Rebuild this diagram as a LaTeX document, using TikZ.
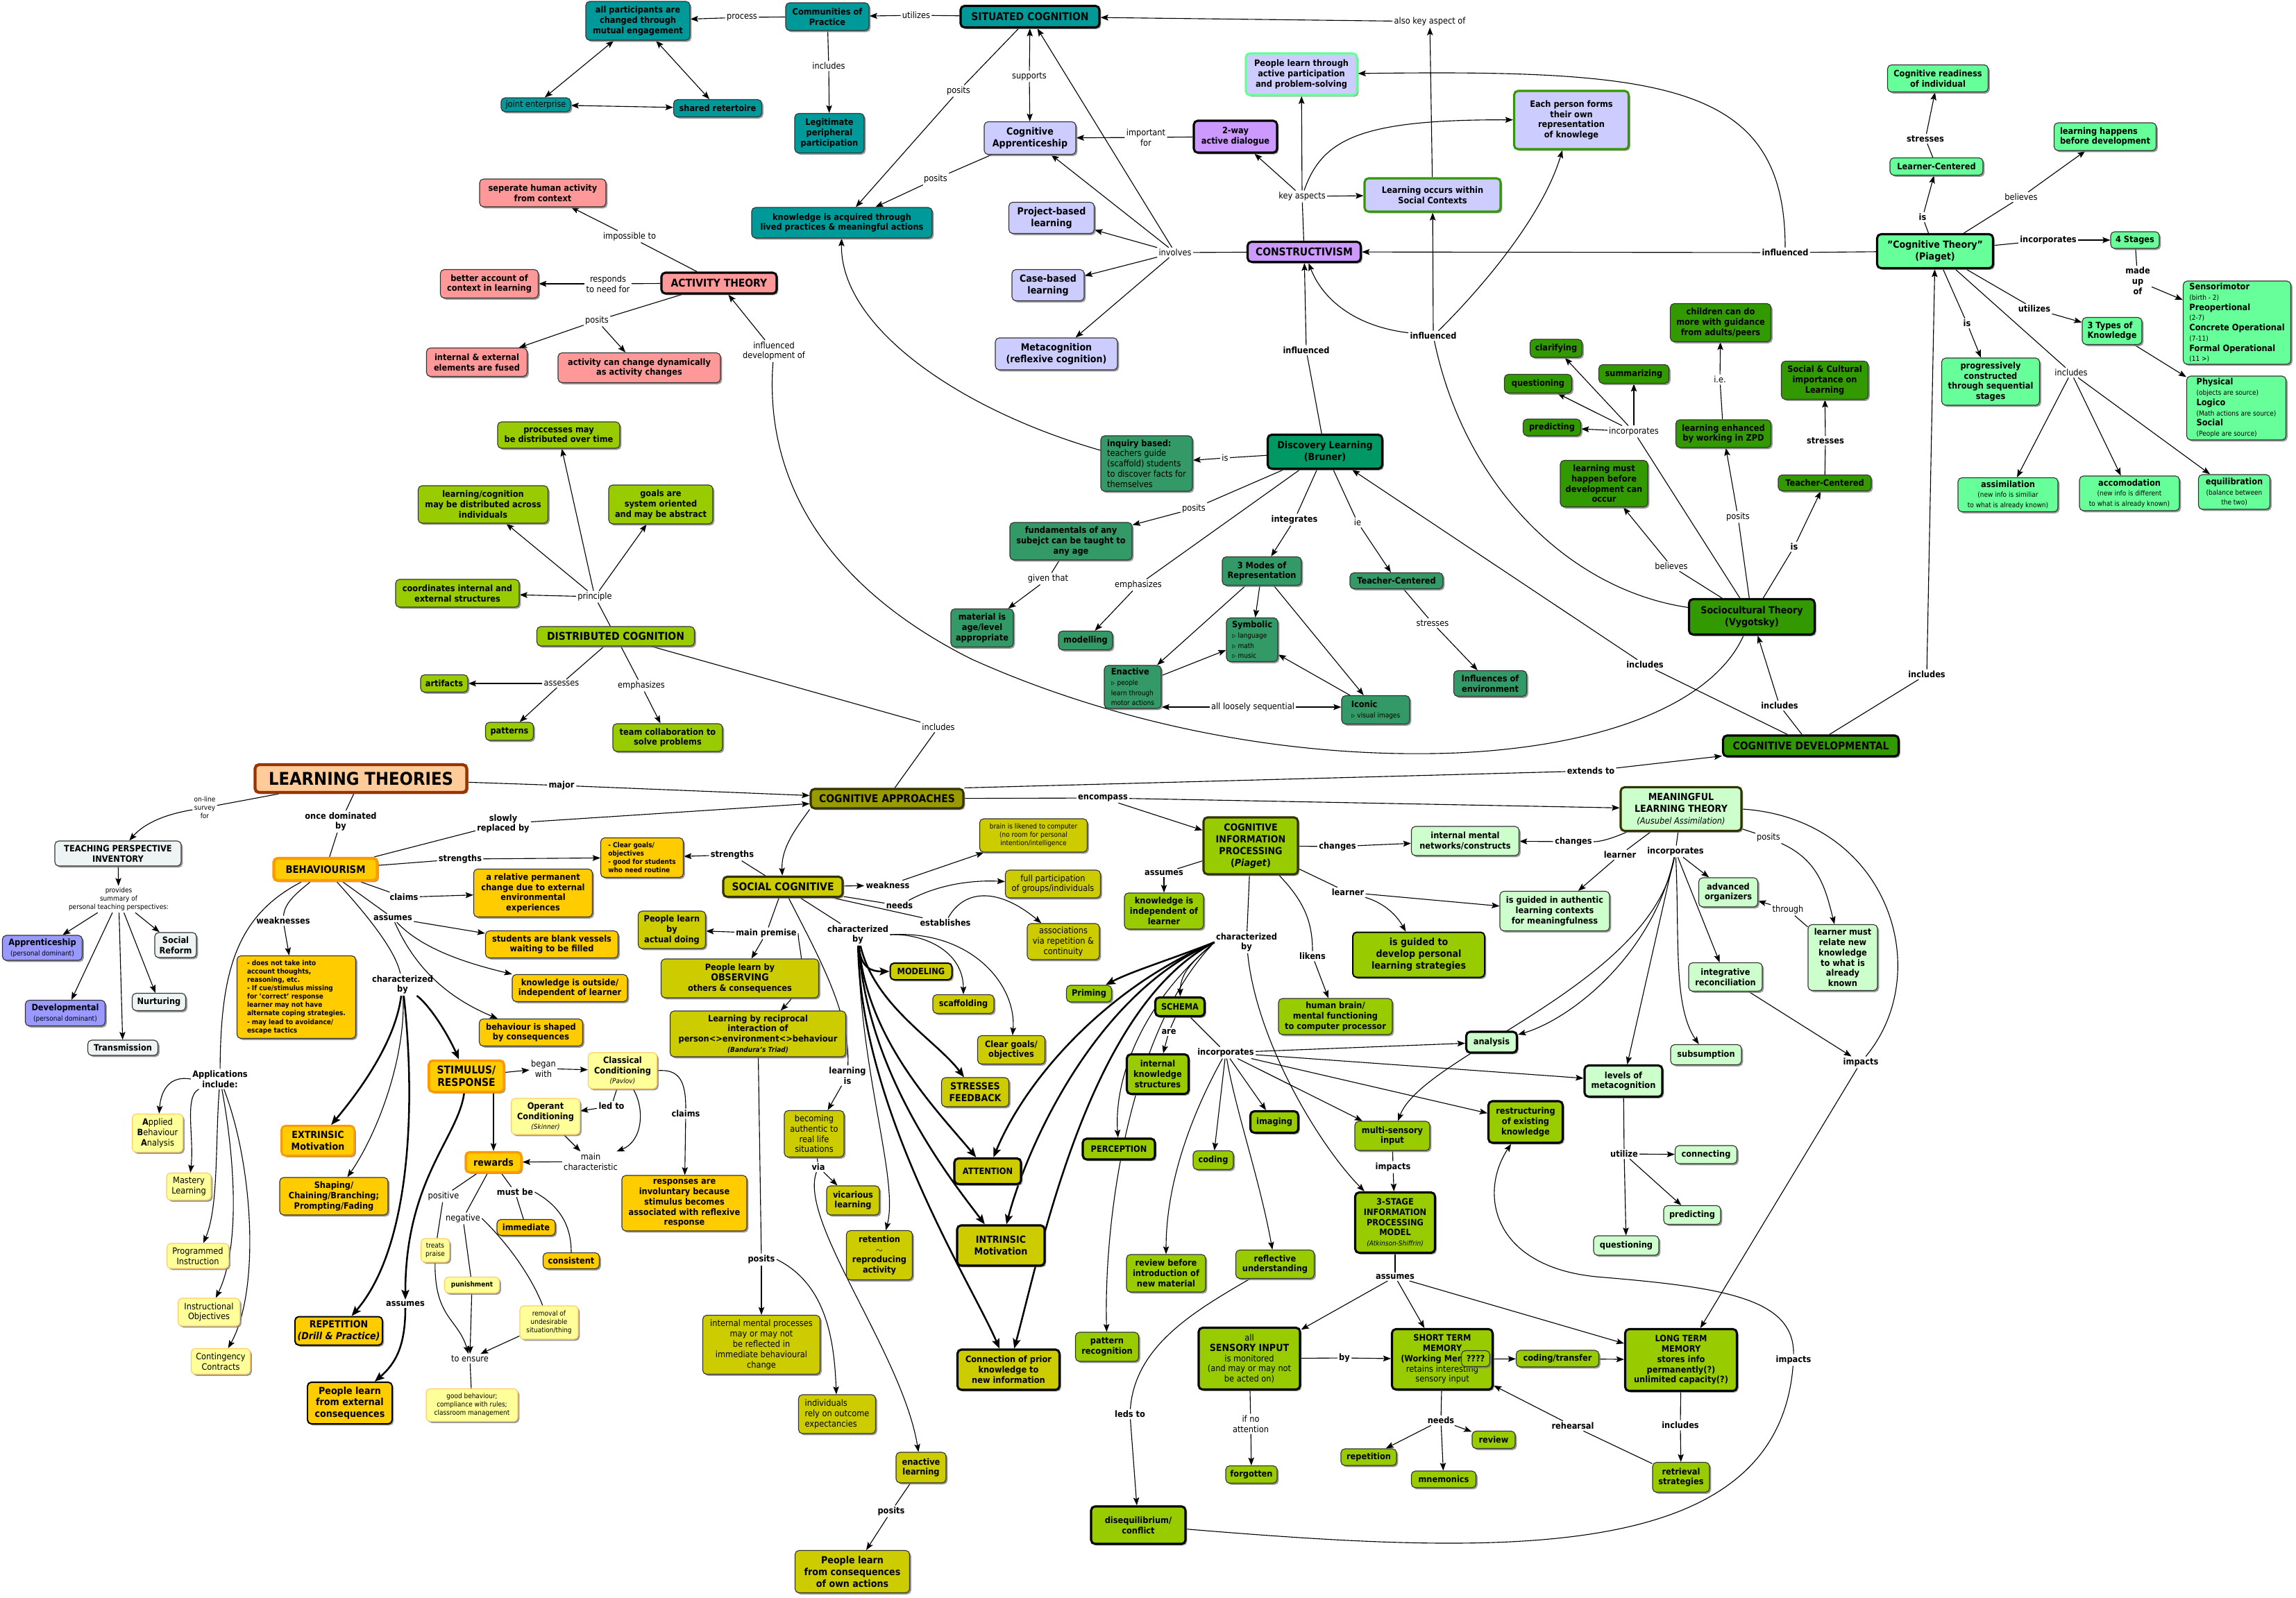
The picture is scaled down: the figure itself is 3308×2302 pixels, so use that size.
\documentclass[tikz,border=0pt]{standalone}
\usepackage{fontspec}
\setmainfont{DejaVu Sans}[FakeStretch=0.9]
\usetikzlibrary{arrows.meta,shadows,backgrounds}
\definecolor{cmteal}{HTML}{009999}
\definecolor{cmlav}{HTML}{CCCCFF}
\definecolor{cmpurp}{HTML}{CC99FF}
\definecolor{cmsalm}{HTML}{FF9999}
\definecolor{cmlime}{HTML}{99CC00}
\definecolor{cmbgreen}{HTML}{339966}
\definecolor{cmdisc}{HTML}{009966}
\definecolor{cmdgreen}{HTML}{339900}
\definecolor{cmmint}{HTML}{66FF99}
\definecolor{cmpmint}{HTML}{CCFFCC}
\definecolor{cmolive}{HTML}{999900}
\definecolor{cmsc}{HTML}{CCCC00}
\definecolor{cmorange}{HTML}{FFCC00}
\definecolor{cmorbord}{HTML}{FF9900}
\definecolor{cmapp}{HTML}{FFFF99}
\definecolor{cmappbord}{HTML}{FFCC66}
\definecolor{cmtpi}{HTML}{EEF4F4}
\definecolor{cmblue}{HTML}{9999FF}
\definecolor{cmpeach}{HTML}{FFCC99}
\definecolor{cmbrown}{HTML}{993300}
\definecolor{cmdolive}{HTML}{333300}
\newcommand{\cmsmall}{\fontsize{7.1}{8.6}\selectfont}
\newcommand{\cmnorm}{\fontsize{9}{10.5}\selectfont}
\newcommand{\cmbig}{\fontsize{10}{12}\selectfont}
\newcommand{\cmtitle}{\fontsize{11}{13}\selectfont}
\newcommand{\cmbeh}{\fontsize{10.5}{12.5}\selectfont}
\newcommand{\cmsr}{\fontsize{11}{13}\selectfont}
\newcommand{\cmhuge}{\fontsize{18}{20}\selectfont}
\newcommand{\cmsub}[1]{{\cmsmall\mdseries #1}}

\begin{document}
\begin{tikzpicture}[x=0.025cm, y=-0.025cm,
    cnode/.style={rectangle, rounded corners=4pt, draw=black!80, line width=0.8pt,
      align=center, inner sep=2pt, font=\cmnorm\bfseries,
      drop shadow={shadow xshift=1.6pt, shadow yshift=-1.6pt, fill=black!50, opacity=0.8}},
    sz/.style 2 args={minimum width=#1*0.025cm, minimum height=#2*0.025cm},
    thk/.style={draw=black, line width=2.2pt},
    tealbox/.style={cnode, fill=cmteal},
    lavbox/.style={cnode, fill=cmlav},
    purpbox/.style={cnode, fill=cmpurp},
    salmbox/.style={cnode, fill=cmsalm},
    limebox/.style={cnode, fill=cmlime},
    bgreenbox/.style={cnode, fill=cmbgreen},
    discbox/.style={cnode, fill=cmdisc},
    dgreenbox/.style={cnode, fill=cmdgreen},
    mintbox/.style={cnode, fill=cmmint},
    pmintbox/.style={cnode, fill=cmpmint},
    olivebox/.style={cnode, fill=cmolive},
    scbox/.style={cnode, fill=cmsc},
    cipbox/.style={cnode, fill=cmlime},
    behbox/.style={cnode, fill=cmorange},
    appbox/.style={cnode, fill=cmapp, draw=cmappbord, font=\cmnorm},
    tpibox/.style={cnode, fill=cmtpi},
    bluebox/.style={cnode, fill=cmblue},
    ltbox/.style={cnode, fill=cmpeach, draw=cmbrown, line width=3pt, font=\cmhuge\bfseries},
    lnk/.style={font=\cmnorm, inner sep=1.5pt, align=center},
    lnkb/.style={font=\cmnorm\bfseries, inner sep=1.5pt, align=center},
    arr/.style={-{Stealth[length=8pt, width=6pt, inset=1.5pt]}, line width=0.8pt},
    tarr/.style={-{Stealth[length=10pt, width=8pt, inset=2pt]}, line width=1.8pt},
    ln/.style={line width=0.8pt},
    dbl/.style={{Stealth[length=8pt, width=6pt, inset=1.5pt]}-{Stealth[length=8pt, width=6pt, inset=1.5pt]}, line width=0.8pt}
  ]
  \useasboundingbox (0,0) rectangle (3308,2302);

  % situated cognition
  \node[tealbox, sz={150}{56}] (allpart) at (919,30) {all participants are\\changed through\\mutual engagement};
  \node[tealbox, sz={100}{20}, font=\cmnorm] (joint) at (772,151) {joint enterprise};
  \node[tealbox, sz={127}{25}] (shared) at (1034,156) {shared retertoire};
  \node[tealbox, sz={120}{40}] (cop) at (1192,24) {Communities of\\Practice};
  \node[tealbox, thk, sz={200}{31}, font=\cmtitle\bfseries] (situated) at (1484,24) {SITUATED COGNITION};
  \node[tealbox, sz={100}{57}] (lpp) at (1195,192) {Legitimate\\peripheral\\participation};
  \node[tealbox, sz={260}{44}] (kacq) at (1213,321) {knowledge is acquired through\\lived practices \& meaningful actions};
  \node[lnk] (l-process) at (1069,25) {process};
  \node[lnk] (l-utilizes1) at (1320,22) {utilizes};
  \node[lnk] (l-includes1) at (1194,95) {includes};
  \node[lnk] (l-posits1) at (1381,131) {posits};
  \node[lnk] (l-supports) at (1483,110) {supports};
  \node[lnk] (l-posits2) at (1348,258) {posits};
  \node[lnk] (l-impfor) at (1651,198) {important\\for};

  % constructivism
  \node[lavbox, sz={132}{47}, font=\cmbig\bfseries] (cogapp) at (1484,199) {Cognitive\\Apprenticeship};
  \node[purpbox, thk, sz={120}{46}] (twoway) at (1780,197) {2-way\\active dialogue};
  \node[lavbox, sz={123}{45}, font=\cmbig\bfseries] (projbl) at (1515,314) {Project-based\\learning};
  \node[lavbox, sz={104}{45}, font=\cmbig\bfseries] (casebl) at (1510,411) {Case-based\\learning};
  \node[lavbox, sz={176}{46}, font=\cmbig\bfseries] (metacog) at (1522,510) {Metacognition\\(reflexive cognition)};
  \node[purpbox, thk, sz={163}{29}, font=\cmtitle\bfseries] (constr) at (1879,363) {CONSTRUCTIVISM};
  \node[lavbox, draw=cmmint, line width=2.2pt, sz={160}{60}] (activep) at (1875,107) {People learn through\\active participation\\and problem-solving};
  \node[lavbox, draw=cmdgreen, line width=2.2pt, sz={196}{48}] (socctx) at (2064,281) {Learning occurs within\\Social Contexts};
  \node[lavbox, draw=cmdgreen, line width=2.2pt, sz={165}{84}] (eachp) at (2264,173) {Each person forms\\their own\\representation\\of knowlege};
  \node[lnk] (l-involves) at (1693,364) {involves};
  \node[lnk] (l-keyasp) at (1876,283) {key aspects};
  \node[lnk] (l-alsokey) at (2060,31) {also key aspect of};
  \node[lnkb] (l-infl1) at (1882,505) {influenced};
  \node[lnkb] (l-infl2) at (2065,484) {influenced};
  \node[lnkb] (l-infl3) at (2572,364) {influenced};

  % activity theory
  \node[salmbox, sz={182}{40}] (seperate) at (782,278) {seperate human activity\\from context};
  \node[salmbox, sz={141}{41}] (betteracc) at (705,409) {better account of\\context in learning};
  \node[salmbox, thk, sz={166}{30}, font=\cmtitle\bfseries] (actth) at (1036,408) {ACTIVITY THEORY};
  \node[salmbox, sz={145}{41}] (intext) at (687,522) {internal \& external\\elements are fused};
  \node[salmbox, sz={234}{43}] (actchg) at (921,530) {activity can change dynamically\\as activity changes};
  \node[lnk] (l-imposs) at (907,341) {impossible to};
  \node[lnk] (l-responds) at (876,409) {responds\\to need for};
  \node[lnk] (l-posits3) at (860,462) {posits};
  \node[lnk] (l-infldev) at (1115,506) {influenced\\development of};

  % distributed cognition
  \node[limebox, sz={176}{38}] (procdist) at (805,627) {proccesses may\\be distributed over time};
  \node[limebox, sz={187}{54}] (lcdist) at (696,727) {learning/cognition\\may be distributed across\\individuals};
  \node[limebox, sz={150}{56}] (goals) at (952,727) {goals are\\system oriented\\and may be abstract};
  \node[limebox, sz={178}{40}] (coord) at (659,855) {coordinates internal and\\external structures};
  \node[limebox, sz={227}{28}, font=\cmtitle\bfseries] (distcog) at (887,917) {DISTRIBUTED COGNITION};
  \node[limebox, sz={68}{25}] (artifacts) at (640,985) {artifacts};
  \node[limebox, sz={69}{26}] (patterns) at (734,1054) {patterns};
  \node[limebox, sz={158}{40}] (teamcol) at (962,1063) {team collaboration to\\solve problems};
  \node[lnk] (l-principle) at (857,860) {principle};
  \node[lnk] (l-assesses) at (809,985) {assesses};
  \node[lnk] (l-emph1) at (924,988) {emphasizes};
  \node[lnk] (l-includes2) at (1352,1048) {includes};

  % learning theories and teaching perspectives
  \node[ltbox, sz={305}{40}] (lt) at (520,1122) {LEARNING THEORIES};
  \node[lnkb] (l-major) at (809,1132) {major};
  \node[lnk, font=\cmsmall] (l-online) at (295,1164) {on-line\\survey\\for};
  \node[tpibox, sz={182}{36}] (tpi) at (170,1230) {TEACHING PERSPECTIVE\\INVENTORY};
  \node[lnk, font=\cmsmall] (l-provides) at (171,1296) {provides\\summary of\\personal teaching perspectives:};
  \node[bluebox, sz={115}{36}] (apprent) at (61,1366) {Apprenticeship\\\cmsub{(personal dominant)}};
  \node[tpibox, sz={60}{36}] (socref) at (253,1362) {Social\\Reform};
  \node[bluebox, sz={115}{37}] (develop) at (94,1460) {Developmental\\\cmsub{(personal dominant)}};
  \node[tpibox, sz={77}{25}] (nurtur) at (229,1444) {Nurturing};
  \node[tpibox, sz={101}{22}] (transm) at (177,1510) {Transmission};

  % behaviourism
  \node[behbox, draw=cmorbord, line width=3pt, sz={149}{32}, font=\cmbeh\bfseries] (behav) at (469,1253) {BEHAVIOURISM};
  \node[lnkb] (l-oncedom) at (491,1184) {once dominated\\by};
  \node[lnkb] (l-slowly) at (725,1187) {slowly\\replaced by};
  \node[lnkb] (l-strength1) at (663,1238) {strengths};
  \node[lnkb] (l-strength2) at (1055,1232) {strengths};
  \node[behbox, sz={119}{57}, font=\cmsmall\bfseries, align=left] (clrgoal1) at (925,1236) {- Clear goals/\\objectives\\- good for students\\who need routine};
  \node[behbox, sz={171}{69}] (relperm) at (768,1287) {a relative permanent\\change due to external\\environmental\\experiences};
  \node[lnkb] (l-claims1) at (582,1293) {claims};
  \node[lnkb] (l-assumes1) at (566,1323) {assumes};
  \node[behbox, sz={191}{39}] (blankv) at (795,1361) {students are blank vessels\\waiting to be filled};
  \node[behbox, sz={166}{39}] (knowout) at (821,1424) {knowledge is outside/\\independent of learner};
  \node[behbox, sz={149}{39}] (behshape) at (765,1488) {behaviour is shaped\\by consequences};
  \node[lnkb] (l-weak1) at (408,1327) {weaknesses};
  \node[behbox, sz={171}{119}, font=\cmsmall\bfseries, align=left] (weakbox) at (427,1437) {- does not take into\\account thoughts,\\reasoning, etc.\\- If cue/stimulus missing\\for 'correct' response\\learner may not have\\alternate coping strategies.\\- may lead to avoidance/\\escape tactics};
  \node[lnkb] (l-char1) at (580,1419) {characterized\\by};
  \node[behbox, draw=cmorbord, line width=2.5pt, sz={108}{45}, font=\cmsr\bfseries] (stimres) at (672,1551) {STIMULUS/\\RESPONSE};
  \node[lnk] (l-began) at (783,1540) {began\\with};
  \node[appbox, font=\cmnorm\bfseries, sz={99}{52}] (classical) at (897,1543) {Classical\\Conditioning\\{\cmsmall\mdseries\itshape (Pavlov)}};
  \node[appbox, font=\cmnorm\bfseries, sz={99}{52}] (operant) at (786,1609) {Operant\\Conditioning\\{\cmsmall\mdseries\itshape (Skinner)}};
  \node[lnkb] (l-ledto) at (881,1594) {led to};
  \node[lnkb] (l-claims2) at (988,1605) {claims};
  \node[lnk] (l-mainchar) at (851,1674) {main\\characteristic};
  \node[behbox, draw=cmorbord, line width=2.5pt, sz={80}{29}, font=\cmbig\bfseries] (rewards) at (711,1675) {rewards};
  \node[behbox, sz={180}{80}] (respinv) at (986,1734) {responses are\\involuntary because\\stimulus becomes\\associated with reflexive\\response};
  \node[lnk] (l-positive) at (639,1724) {positive};
  \node[lnk] (l-negative) at (667,1756) {negative};
  \node[lnkb] (l-mustbe) at (742,1718) {must be};
  \node[behbox, sz={84}{23}] (immed) at (758,1769) {immediate};
  \node[behbox, sz={81}{23}] (consist) at (823,1817) {consistent};
  \node[appbox, sz={41}{34}, font=\cmsmall] (treats) at (627,1802) {treats\\praise};
  \node[appbox, sz={79}{23}, font=\cmsmall\bfseries] (punish) at (680,1852) {punishment};
  \node[appbox, sz={84}{48}, font=\cmsmall] (removal) at (791,1906) {removal of\\undesirable\\situation/thing};
  \node[lnk] (l-ensure) at (677,1958) {to ensure};
  \node[appbox, sz={132}{47}, font=\cmsmall] (goodbeh) at (680,2025) {good behaviour;\\compliance with rules;\\classroom management};
  \node[behbox, draw=cmorbord, line width=2pt, sz={105}{43}, font=\cmbig\bfseries] (extrin) at (458,1644) {EXTRINSIC\\Motivation};
  \node[behbox, sz={156}{54}] (shaping) at (481,1724) {Shaping/\\Chaining/Branching;\\Prompting/Fading};
  \node[behbox, draw=black, line width=1.4pt, sz={126}{41}, font=\cmbig\bfseries] (repet) at (488,1918) {REPETITION\\\textit{(Drill \& Practice)}};
  \node[behbox, draw=black, line width=1.4pt, sz={122}{60}, font=\cmbig\bfseries] (extcons) at (504,2022) {People learn\\from external\\consequences};
  \node[lnkb] (l-assumes2) at (584,1879) {assumes};
  \node[lnkb] (l-applic) at (317,1555) {Applications\\include:};
  \node[appbox, sz={73}{55}] (appba) at (227,1633) {\textbf{A}pplied\\\textbf{B}ehaviour\\\textbf{A}nalysis};
  \node[appbox, sz={64}{39}] (mastery) at (272,1710) {Mastery\\Learning};
  \node[appbox, sz={89}{36}] (progr) at (285,1810) {Programmed\\Instruction};
  \node[appbox, sz={89}{40}] (instr) at (301,1891) {Instructional\\Objectives};
  \node[appbox, sz={85}{37}] (conting) at (318,1962) {Contingency\\Contracts};

  % cognitive approaches and social cognitive
  \node[olivebox, thk, draw=cmdolive, sz={220}{28}, font=\cmtitle\bfseries] (cogappr) at (1278,1151) {COGNITIVE APPROACHES};
  \node[lnkb] (l-encomp) at (1589,1150) {encompass};
  \node[lnkb] (l-extends) at (2292,1111) {extends to};
  \node[scbox, thk, draw=cmdolive, sz={172}{29}, font=\cmtitle\bfseries] (soccog) at (1128,1278) {SOCIAL COGNITIVE};
  \node[lnkb] (l-weakness) at (1279,1276) {weakness};
  \node[scbox, sz={155}{48}, font=\cmsmall] (brain) at (1489,1204) {brain is likened to computer\\(no room for personal\\intention/intelligence};
  \node[lnkb] (l-needs1) at (1296,1305) {needs};
  \node[scbox, sz={137}{40}, font=\cmnorm] (fullpart) at (1517,1274) {full participation\\of groups/individuals};
  \node[lnkb] (l-establ) at (1362,1330) {establishes};
  \node[scbox, sz={104}{52}, font=\cmnorm] (assoc) at (1532,1357) {associations\\via repetition \&\\continuity};
  \node[lnkb] (l-char2) at (1236,1347) {characterized\\by};
  \node[lnkb] (l-mainprem) at (1104,1345) {main premise};
  \node[scbox, sz={97}{54}] (actdoing) at (968,1340) {People learn\\by\\actual doing};
  \node[scbox, sz={227}{56}] (observ) at (1066,1410) {People learn by\\{\cmbig OBSERVING}\\others \& consequences};
  \node[scbox, sz={253}{66}] (bandura) at (1092,1490) {Learning by reciprocal\\interaction of\\person<>environment<>behaviour\\{\cmsmall\itshape (Bandura's Triad)}};
  \node[lnkb] (l-learnis) at (1221,1550) {learning\\is};
  \node[scbox, sz={86}{67}, font=\cmnorm] (authentic) at (1173,1634) {becoming\\authentic to\\real life\\situations};
  \node[lnkb] (l-via) at (1179,1682) {via};
  \node[scbox, sz={76}{42}] (vicar) at (1229,1730) {vicarious\\learning};
  \node[scbox, sz={95}{71}] (retent) at (1267,1809) {retention\\$\sim$\\reproducing\\activity};
  \node[scbox, thk, sz={126}{58}, font=\cmbig\bfseries] (intrin) at (1442,1795) {INTRINSIC\\Motivation};
  \node[scbox, thk, sz={147}{58}] (connprior) at (1453,1974) {Connection of prior\\knowledge to\\new information};
  \node[scbox, sz={72}{44}] (enactl) at (1327,2115) {enactive\\learning};
  \node[lnkb] (l-posits4) at (1284,2178) {posits};
  \node[scbox, sz={165}{61}, font=\cmbig\bfseries] (ownact) at (1228,2265) {People learn\\from consequences\\of own actions};
  \node[lnkb] (l-posits5) at (1097,1815) {posits};
  \node[scbox, sz={169}{85}, font=\cmnorm] (intmental) at (1097,1938) {internal mental processes\\may or may not\\be reflected in\\immediate behavioural\\change};
  \node[scbox, sz={111}{56}, font=\cmnorm, align=left] (outcome) at (1206,2038) {individuals\\rely on outcome\\expectancies};
  \node[scbox, draw=black, line width=1.4pt, sz={89}{24}] (modeling) at (1327,1400) {MODELING};
  \node[scbox, sz={88}{27}] (scaff) at (1388,1447) {scaffolding};
  \node[scbox, sz={97}{41}] (clrgoal2) at (1457,1513) {Clear goals/\\objectives};
  \node[scbox, sz={97}{42}, font=\cmbig\bfseries] (stressfb) at (1405,1574) {STRESSES\\FEEDBACK};
  \node[scbox, thk, sz={96}{37}] (attention) at (1423,1688) {ATTENTION};

  % cognitive information processing
  \node[cipbox, thk, draw=cmdolive, sz={136}{82}, font=\cmbig\bfseries] (cip) at (1802,1219) {COGNITIVE\\INFORMATION\\PROCESSING\\(\textit{Piaget})};
  \node[lnkb] (l-changes1) at (1927,1220) {changes};
  \node[pmintbox, sz={155}{42}] (intnet) at (2111,1212) {internal mental\\networks/constructs};
  \node[lnkb] (l-assumes3) at (1677,1258) {assumes};
  \node[cipbox, sz={114}{52}] (kindep) at (1677,1313) {knowledge is\\independent of\\learner};
  \node[lnkb] (l-learner1) at (1942,1286) {learner};
  \node[pmintbox, sz={158}{57}] (authctx) at (2240,1313) {is guided in authentic\\learning contexts\\for meaningfulness};
  \node[cipbox, draw=black, line width=1.4pt, sz={190}{65}, font=\cmbig\bfseries] (persstrat) at (2044,1376) {is guided to\\develop personal\\learning strategies};
  \node[lnkb] (l-char3) at (1796,1358) {characterized\\by};
  \node[lnkb] (l-likens) at (1891,1378) {likens};
  \node[cipbox, sz={164}{52}] (humbrain) at (1924,1465) {human brain/\\mental functioning\\to computer processor};
  \node[cipbox, sz={65}{24}] (priming) at (1569,1432) {Priming};
  \node[cipbox, thk, sz={71}{27}] (schema) at (1700,1451) {SCHEMA};
  \node[lnkb] (l-are) at (1684,1487) {are};
  \node[cipbox, thk, sz={89}{57}] (intks) at (1668,1548) {internal\\knowledge\\structures};
  \node[lnkb] (l-incorp1) at (1766,1517) {incorporates};
  \node[pmintbox, thk, sz={73}{30}] (analysis) at (2149,1502) {analysis};
  \node[cipbox, thk, sz={69}{31}] (imaging) at (1836,1617) {imaging};
  \node[cipbox, sz={58}{27}] (coding) at (1748,1672) {coding};
  \node[cipbox, thk, sz={104}{30}] (percep) at (1612,1656) {PERCEPTION};
  \node[cipbox, sz={108}{42}] (multisens) at (2006,1637) {multi-sensory\\input};
  \node[lnkb] (l-impacts1) at (2007,1682) {impacts};
  \node[cipbox, thk, sz={107}{60}] (restruct) at (2198,1617) {restructuring\\of existing\\knowledge};
  \node[cipbox, thk, sz={115}{87}] (threestage) at (2010,1762) {3-STAGE\\INFORMATION\\PROCESSING\\MODEL\\{\cmsmall\mdseries\itshape (Atkinson-Shiffrin)}};
  \node[lnkb] (l-assumes4) at (2010,1840) {assumes};
  \node[cipbox, thk, sz={146}{89}, font=\cmnorm] (sensory) at (1800,1958) {all\\{\cmbig\bfseries SENSORY INPUT}\\is monitored\\(and may or may not\\be acted on)};
  \node[lnkb] (l-by) at (1937,1957) {by};
  \node[cipbox, thk, sz={145}{87}] (stm) at (2078,1959) {SHORT TERM\\MEMORY\\(Working Memory)\\{\mdseries retains interesting}\\{\mdseries sensory input}};
  \node[cipbox, sz={41}{23}] (qmarks) at (2126,1958) {????};
  \node[cipbox, sz={119}{24}] (codtrans) at (2244,1958) {coding/transfer};
  \node[cipbox, thk, sz={161}{89}] (ltm) at (2422,1960) {LONG TERM\\MEMORY\\stores info\\permanently(?)\\unlimited capacity(?)};
  \node[lnkb] (l-includes3) at (2421,2054) {includes};
  \node[cipbox, sz={82}{43}] (retriev) at (2422,2129) {retrieval\\strategies};
  \node[lnkb] (l-rehears) at (2266,2055) {rehearsal};
  \node[lnk] (l-ifno) at (1802,2052) {if no\\attention};
  \node[cipbox, sz={74}{25}] (forgot) at (1803,2125) {forgotten};
  \node[lnkb] (l-needs2) at (2076,2047) {needs};
  \node[cipbox, sz={80}{24}] (repetn) at (1972,2100) {repetition};
  \node[cipbox, sz={93}{24}] (mnemon) at (2080,2132) {mnemonics};
  \node[cipbox, sz={62}{25}] (review) at (2152,2075) {review};
  \node[cipbox, sz={114}{54}] (revbefore) at (1680,1835) {review before\\introduction of\\new material};
  \node[cipbox, sz={113}{41}] (reflect) at (1837,1822) {reflective\\understanding};
  \node[cipbox, sz={91}{42}] (patrec) at (1595,1941) {pattern\\recognition};
  \node[lnkb] (l-ledsto) at (1628,2038) {leds to};
  \node[cipbox, thk, sz={136}{54}] (diseq) at (1640,2198) {disequilibrium/\\conflict};
  \node[lnkb] (l-impacts2) at (2584,1960) {impacts};

  % meaningful learning
  \node[pmintbox, thk, draw=cmdolive, sz={174}{63}, font=\cmbig\bfseries] (mlt) at (2422,1166) {MEANINGFUL\\LEARNING THEORY\\{\cmnorm\mdseries\itshape (Ausubel Assimilation)}};
  \node[lnkb] (l-changes2) at (2267,1213) {changes};
  \node[lnkb] (l-learner2) at (2334,1232) {learner};
  \node[lnkb] (l-incorp2) at (2414,1227) {incorporates};
  \node[pmintbox, sz={85}{42}] (advorg) at (2490,1286) {advanced\\organizers};
  \node[lnk] (l-through) at (2576,1311) {through};
  \node[lnk] (l-posits6) at (2548,1207) {posits};
  \node[pmintbox, sz={100}{95}] (relknow) at (2655,1380) {learner must\\relate new\\knowledge\\to what is\\already\\known};
  \node[pmintbox, sz={106}{41}] (integr) at (2486,1408) {integrative\\reconciliation};
  \node[pmintbox, sz={102}{29}] (subsum) at (2458,1520) {subsumption};
  \node[pmintbox, thk, sz={112}{45}] (levmeta) at (2339,1558) {levels of\\metacognition};
  \node[lnkb] (l-impacts3) at (2681,1531) {impacts};
  \node[lnkb] (l-utilize) at (2340,1663) {utilize};
  \node[pmintbox, sz={89}{26}] (connect) at (2458,1664) {connecting};
  \node[pmintbox, sz={82}{27}] (predML) at (2438,1751) {predicting};
  \node[pmintbox, sz={94}{28}] (questML) at (2343,1795) {questioning};

  % cognitive developmental
  \node[dgreenbox, thk, sz={253}{30}, font=\cmtitle\bfseries] (cogdev) at (2609,1075) {COGNITIVE DEVELOPMENTAL};
  \node[lnkb] (l-includes4) at (2564,1017) {includes};
  \node[lnkb] (l-includes5) at (2370,958) {includes};
  \node[lnkb] (l-includes6) at (2776,972) {includes};
  \node[dgreenbox, thk, sz={181}{51}, font=\cmbig\bfseries] (vygot) at (2524,889) {Sociocultural Theory\\(Vygotsky)};
  \node[lnk] (l-believes1) at (2408,816) {believes};
  \node[dgreenbox, sz={126}{67}] (mustdev) at (2311,697) {learning must\\happen before\\development can\\occur};
  \node[lnk] (l-incorp3) at (2354,622) {incorporates};
  \node[dgreenbox, sz={83}{24}] (predV) at (2236,616) {predicting};
  \node[dgreenbox, sz={75}{26}] (clarif) at (2242,502) {clarifying};
  \node[dgreenbox, sz={101}{27}] (summar) at (2354,539) {summarizing};
  \node[dgreenbox, sz={97}{27}] (questV) at (2216,553) {questioning};
  \node[lnk] (l-posits7) at (2504,745) {posits};
  \node[dgreenbox, sz={137}{40}] (zpd) at (2483,625) {learning enhanced\\by working in ZPD};
  \node[lnk] (l-ie2) at (2478,547) {i.e.};
  \node[dgreenbox, sz={145}{55}] (children) at (2479,465) {children can do\\more with guidance\\from adults/peers};
  \node[lnkb] (l-is3) at (2585,788) {is};
  \node[dgreenbox, sz={134}{23}] (teachV) at (2629,696) {Teacher-Centered};
  \node[lnkb] (l-stress3) at (2630,635) {stresses};
  \node[dgreenbox, sz={125}{55}] (socult) at (2629,548) {Social \& Cultural\\importance on\\Learning};

  % piaget
  \node[mintbox, thk, sz={167}{49}, font=\cmbig\bfseries] (piaget) at (2788,362) {"Cognitive Theory"\\(Piaget)};
  \node[lnkb] (l-is1) at (2770,313) {is};
  \node[mintbox, sz={134}{25}] (learnctr) at (2790,240) {Learner-Centered};
  \node[lnkb] (l-stress1) at (2774,200) {stresses};
  \node[mintbox, sz={145}{39}] (readiness) at (2792,113) {Cognitive readiness\\of individual};
  \node[lnk] (l-believes2) at (2912,284) {believes};
  \node[mintbox, sz={147}{40}, align=left] (beforedev) at (3033,197) {learning happens\\before development};
  \node[lnkb] (l-incorp4) at (2951,346) {incorporates};
  \node[mintbox, sz={70}{24}] (stages4) at (3076,346) {4 Stages};
  \node[lnkb] (l-madeup) at (3080,405) {made\\up\\of};
  \node[mintbox, sz={155}{117}, align=left] (stagelist) at (3223,465) {Sensorimotor\\\cmsub{(birth - 2)}\\Preopertional\\\cmsub{(2-7)}\\Concrete Operational\\\cmsub{(7-11)}\\Formal Operational\\\cmsub{(11 >)}};
  \node[lnkb] (l-utilizes2) at (2931,445) {utilizes};
  \node[mintbox, sz={86}{39}, align=left] (types3) at (3043,477) {3 Types of\\Knowledge};
  \node[mintbox, sz={143}{92}, align=left] (knowlist) at (3222,588) {Physical\\\cmsub{(objects are source)}\\Logico\\\cmsub{(Math actions are source)}\\Social\\\cmsub{(People are source)}};
  \node[lnkb] (l-is2) at (2834,466) {is};
  \node[mintbox, sz={141}{68}] (progcon) at (2868,550) {progressively\\constructed\\through sequential\\stages};
  \node[lnk] (l-includes7) at (2984,537) {includes};
  \node[mintbox, sz={144}{49}] (assim) at (2893,713) {assimilation\\\cmsub{(new info is similiar}\\\cmsub{to what is already known)}};
  \node[mintbox, sz={144}{50}] (accom) at (3068,711) {accomodation\\\cmsub{(new info is different}\\\cmsub{to what is already known)}};
  \node[mintbox, sz={103}{50}] (equil) at (3219,709) {equilibration\\\cmsub{(balance between}\\\cmsub{the two)}};

  % bruner
  \node[discbox, thk, sz={165}{49}, font=\cmbig\bfseries] (discov) at (1909,651) {Discovery Learning\\(Bruner)};
  \node[lnk] (l-is4) at (1765,660) {is};
  \node[bgreenbox, sz={132}{80}, align=left] (inquiry) at (1652,668) {inquiry based:\\{\mdseries teachers guide}\\{\mdseries (scaffold) students}\\{\mdseries to discover facts for}\\{\mdseries themselves}};
  \node[lnk] (l-posits8) at (1720,733) {posits};
  \node[bgreenbox, sz={176}{54}] (fundam) at (1543,780) {fundamentals of any\\subejct can be taught to\\any age};
  \node[lnk] (l-given) at (1510,834) {given that};
  \node[bgreenbox, sz={90}{55}] (material) at (1415,905) {material is\\age/level\\appropriate};
  \node[lnk] (l-emph2) at (1640,843) {emphasizes};
  \node[bgreenbox, sz={78}{27}] (modelling) at (1564,923) {modelling};
  \node[lnkb] (l-integr) at (1865,749) {integrates};
  \node[bgreenbox, sz={114}{41}] (modes3) at (1818,823) {3 Modes of\\Representation};
  \node[lnk] (l-ie1) at (1956,753) {ie};
  \node[bgreenbox, sz={134}{23}] (teachB) at (2012,837) {Teacher-Centered};
  \node[lnk] (l-stress2) at (2064,898) {stresses};
  \node[bgreenbox, sz={105}{37}] (environ) at (2147,985) {Influences of\\environment};
  \node[bgreenbox, sz={74}{63}, align=left] (symbolic) at (1804,922) {Symbolic\\\cmsub{$\triangleright$ language}\\\cmsub{$\triangleright$ math}\\\cmsub{$\triangleright$ music}};
  \node[bgreenbox, sz={82}{62}, align=left] (enactive) at (1632,990) {Enactive\\\cmsub{$\triangleright$ people}\\\cmsub{learn through}\\\cmsub{motor actions}};
  \node[bgreenbox, sz={98}{41}, align=left] (iconic) at (1982,1023) {Iconic\\\cmsub{$\triangleright$ visual images}};
  \node[lnk] (l-loosely) at (1805,1019) {all loosely sequential};

  \begin{scope}[on background layer]
  \fill[white] (0,0) rectangle (3308,2302);
  % situated cognition links
  \draw[ln] (cop) -- (l-process); \draw[arr] (l-process) -- (allpart);
  \draw[dbl] (allpart) -- (joint); \draw[dbl] (allpart) -- (shared); \draw[dbl] (joint) -- (shared);
  \draw[ln] (situated) -- (l-utilizes1); \draw[arr] (l-utilizes1) -- (cop);
  \draw[ln] (cop) -- (l-includes1); \draw[arr] (l-includes1) -- (lpp);
  \draw[ln] (situated) -- (l-posits1); \draw[arr] (l-posits1) -- (kacq);
  \draw[arr] (l-supports) -- (situated); \draw[arr] (l-supports) -- (cogapp);
  \draw[ln] (cogapp) -- (l-posits2); \draw[arr] (l-posits2) -- (kacq);
  \draw[ln] (twoway) -- (l-impfor); \draw[arr] (l-impfor) -- (cogapp);
  % constructivism links
  \draw[ln] (constr) -- (l-involves);
  \foreach \t in {projbl, casebl, metacog, cogapp, situated}
    \draw[arr] (l-involves) -- (\t);
  \draw[ln] (constr) -- (l-keyasp);
  \draw[arr] (l-keyasp) -- (twoway); \draw[arr] (l-keyasp) -- (activep); \draw[arr] (l-keyasp) -- (socctx);
  \draw[arr] (l-keyasp) .. controls (1905,200) and (1960,172) .. (eachp);
  \draw[arr] (socctx) -- (l-alsokey); \draw[arr] (l-alsokey) -- (situated);
  \draw[ln] (discov) -- (l-infl1); \draw[arr] (l-infl1) -- (constr);
  \draw[ln] (vygot) .. controls (2260,850) and (2110,700) .. (l-infl2);
  \draw[arr] (l-infl2) .. controls (1950,470) and (1905,430) .. (constr);
  \draw[arr] (l-infl2) -- (socctx);
  \draw[arr] (l-infl2) .. controls (2120,430) and (2220,320) .. (eachp);
  \draw[ln] (piaget) -- (l-infl3); \draw[arr] (l-infl3) -- (constr);
  \draw[arr] (l-infl3) .. controls (2572,120) and (2400,100) .. (activep);
  % activity theory links
  \draw[ln] (actth) -- (l-imposs); \draw[arr] (l-imposs) -- (seperate);
  \draw[ln] (actth) -- (l-responds); \draw[arr] (l-responds) -- (betteracc);
  \draw[ln] (actth) -- (l-posits3); \draw[arr] (l-posits3) -- (intext); \draw[arr] (l-posits3) -- (actchg);
  \draw[arr] (l-infldev) -- (actth);
  \draw[ln] (vygot) .. controls (2470,1010) and (2320,1075) .. (2100,1085) .. controls (1850,1095) and (1600,1040) .. (1400,950) .. controls (1200,850) and (1100,700) .. (l-infldev);
  \draw[arr] (inquiry) .. controls (1380,590) and (1210,470) .. (kacq);
  % distributed cognition links
  \draw[ln] (distcog) -- (l-principle);
  \foreach \t in {coord, lcdist, procdist, goals}
    \draw[arr] (l-principle) -- (\t);
  \draw[ln] (distcog) -- (l-assesses); \draw[arr] (l-assesses) -- (artifacts); \draw[arr] (l-assesses) -- (patterns);
  \draw[ln] (distcog) -- (l-emph1); \draw[arr] (l-emph1) -- (teamcol);
  \draw[ln] (distcog) -- (l-includes2); \draw[ln] (l-includes2) -- (cogappr);
  % learning theories links
  \draw[ln] (lt) -- (l-major); \draw[arr] (l-major) -- (cogappr);
  \draw[ln] (lt) -- (l-online); \draw[arr] (l-online) .. controls (230,1175) and (205,1190) .. (tpi);
  \draw[arr] (tpi) -- (l-provides);
  \foreach \t in {apprent, develop, transm, nurtur, socref}
    \draw[arr] (l-provides) -- (\t);
  \draw[ln] (lt) -- (l-oncedom); \draw[ln] (l-oncedom) -- (behav);
  % behaviourism links
  \draw[ln] (behav) -- (l-slowly); \draw[arr] (l-slowly) -- (cogappr);
  \draw[ln] (behav) -- (l-strength1); \draw[arr] (l-strength1) -- (clrgoal1);
  \draw[ln] (soccog) -- (l-strength2); \draw[arr] (l-strength2) -- (clrgoal1);
  \draw[ln] (behav) -- (l-claims1); \draw[arr] (l-claims1) -- (relperm);
  \draw[ln] (behav) -- (l-assumes1);
  \draw[arr] (l-assumes1) -- (blankv);
  \draw[arr] (l-assumes1) .. controls (610,1370) and (680,1390) .. (knowout);
  \draw[arr] (l-assumes1) .. controls (600,1400) and (650,1440) .. (behshape);
  \draw[ln] (behav) .. controls (430,1285) and (410,1300) .. (l-weak1); \draw[arr] (l-weak1) -- (weakbox);
  \draw[ln] (behav) .. controls (530,1320) and (570,1370) .. (l-char1);
  \draw[tarr] (l-char1) .. controls (570,1500) and (520,1570) .. (extrin);
  \draw[arr] (l-char1) .. controls (585,1530) and (540,1640) .. (shaping);
  \draw[tarr] (l-char1) .. controls (600,1600) and (590,1800) .. (repet);
  \draw[tarr] (l-char1) .. controls (620,1450) and (645,1490) .. (stimres);
  \draw[arr] (stimres) -- (l-began); \draw[arr] (l-began) -- (classical);
  \draw[ln] (classical) -- (l-ledto); \draw[arr] (l-ledto) -- (operant);
  \draw[ln] (classical.east) .. controls (980,1540) and (988,1560) .. (l-claims2); \draw[arr] (l-claims2) -- (respinv);
  \draw[arr] (operant) -- (l-mainchar);
  \draw[arr] (classical) .. controls (930,1600) and (925,1645) .. (l-mainchar);
  \draw[arr] (l-mainchar) -- (rewards);
  \draw[arr] (stimres.south -| rewards.north) -- (rewards.north);
  \draw[ln] (rewards) -- (l-positive); \draw[ln] (rewards) -- (l-negative); \draw[ln] (rewards) -- (l-mustbe);
  \draw[ln] (l-mustbe) -- (immed); \draw[ln] (l-mustbe.east) .. controls (810,1740) and (823,1770) .. (consist);
  \draw[ln] (l-positive) -- (treats); \draw[ln] (l-negative) -- (punish);
  \draw[ln] (l-negative.east) .. controls (740,1800) and (770,1850) .. (removal);
  \draw[arr] (treats) .. controls (626,1900) and (660,1900) .. (l-ensure);
  \draw[arr] (punish) -- (l-ensure); \draw[arr] (removal) -- (l-ensure);
  \draw[ln] (l-ensure) -- (goodbeh);
  \draw[tarr] (stimres) .. controls (660,1640) and (584,1700) .. (l-assumes2);
  \draw[tarr] (l-assumes2) .. controls (584,1940) and (570,1965) .. (extcons);
  \draw[ln] (behav) .. controls (340,1320) and (318,1400) .. (l-applic);
  \draw[arr] (l-applic.west) .. controls (245,1550) and (232,1570) .. (appba);
  \draw[arr] (l-applic) .. controls (265,1580) and (280,1640) .. (mastery);
  \draw[arr] (l-applic) .. controls (310,1650) and (315,1740) .. (progr);
  \draw[arr] (l-applic) .. controls (340,1680) and (345,1800) .. (instr);
  \draw[arr] (l-applic) .. controls (365,1680) and (375,1860) .. (conting);
  % cognitive approaches links
  \draw[ln] (cogappr) -- (l-encomp); \draw[arr] (l-encomp) -- (cip); \draw[arr] (l-encomp) -- (mlt);
  \draw[ln] (cogappr.north east) -- (l-extends); \draw[arr] (l-extends) -- (cogdev);
  \draw[arr] (cogappr.south west) .. controls (1150,1190) and (1125,1220) .. (soccog);
  \draw[arr] (soccog) -- (l-weakness); \draw[arr] (l-weakness) -- (brain);
  \draw[ln] (soccog) -- (l-needs1); \draw[arr] (l-needs1) .. controls (1350,1275) and (1400,1268) .. (fullpart);
  \draw[ln] (soccog) -- (l-establ); \draw[arr] (l-establ) .. controls (1390,1280) and (1440,1280) .. (assoc);
  \draw[ln] (soccog) -- (l-char2);
  \draw[ln] (soccog) -- (l-mainprem);
  \draw[arr] (l-mainprem) -- (actdoing); \draw[arr] (l-mainprem) -- (observ);
  \draw[arr] (l-mainprem.east) .. controls (1150,1370) and (1170,1410) .. (bandura);
  \draw[ln] (soccog) .. controls (1180,1380) and (1225,1460) .. (l-learnis); \draw[arr] (l-learnis) -- (authentic);
  \draw[ln] (authentic) -- (l-via); \draw[arr] (l-via) -- (vicar);
  \draw[arr] (l-via) .. controls (1150,1760) and (1300,1950) .. (enactl);
  \draw[ln] (enactl) -- (l-posits4); \draw[arr] (l-posits4) -- (ownact);
  \draw[ln] (bandura) -- (l-posits5); \draw[arr] (l-posits5) -- (intmental);
  \draw[arr] (l-posits5.east) .. controls (1190,1850) and (1202,1930) .. (outcome);
  \draw[tarr] (l-char2) .. controls (1240,1395) and (1255,1400) .. (modeling);
  \draw[arr] (l-char2.east) .. controls (1330,1345) and (1388,1370) .. (scaff);
  \draw[arr] (l-char2.east) .. controls (1400,1340) and (1465,1420) .. (clrgoal2);
  \draw[tarr] (l-char2) .. controls (1260,1450) and (1350,1500) .. (stressfb);
  \draw[tarr] (l-char2) .. controls (1250,1500) and (1350,1600) .. (attention);
  \draw[tarr] (l-char2) .. controls (1250,1550) and (1370,1700) .. (intrin);
  \draw[tarr] (l-char2) .. controls (1240,1600) and (1400,1850) .. (connprior);
  \draw[arr] (l-char2) .. controls (1240,1550) and (1295,1700) .. (retent);
  % information processing links
  \draw[ln] (cip) -- (l-changes1); \draw[arr] (l-changes1) -- (intnet);
  \draw[ln] (cip) -- (l-assumes3); \draw[arr] (l-assumes3) -- (kindep);
  \draw[ln] (cip) -- (l-learner1); \draw[arr] (l-learner1) -- (authctx);
  \draw[arr] (l-learner1) .. controls (1990,1300) and (2010,1315) .. (persstrat);
  \draw[ln] (cip) -- (l-char3);
  \draw[ln] (cip) .. controls (1880,1300) and (1891,1330) .. (l-likens); \draw[arr] (l-likens) -- (humbrain);
  \draw[tarr] (l-char3.west) .. controls (1680,1385) and (1630,1400) .. (priming);
  \draw[arr] (l-char3.west) .. controls (1720,1385) and (1701,1400) .. (schema);
  \draw[tarr] (l-char3.west) .. controls (1600,1420) and (1480,1550) .. (attention);
  \draw[tarr] (l-char3.west) .. controls (1580,1430) and (1480,1650) .. (intrin);
  \draw[tarr] (l-char3.west) .. controls (1570,1450) and (1500,1800) .. (connprior);
  \draw[arr] (l-char3.west) .. controls (1640,1450) and (1605,1560) .. (percep);
  \draw[arr] (l-char3.west) .. controls (1630,1480) and (1590,1750) .. (patrec);
  \draw[arr] (l-char3) .. controls (1810,1500) and (1900,1650) .. (threestage);
  \draw[ln] (schema) -- (l-are); \draw[arr] (l-are) -- (intks);
  \draw[ln] (schema) -- (l-incorp1);
  \foreach \t in {analysis, levmeta, restruct, multisens, imaging, coding}
    \draw[arr] (l-incorp1) -- (\t);
  \draw[arr] (l-incorp1) .. controls (1720,1600) and (1680,1700) .. (revbefore);
  \draw[arr] (l-incorp1) .. controls (1780,1600) and (1815,1700) .. (reflect);
  \draw[ln] (multisens) -- (l-impacts1); \draw[arr] (l-impacts1) -- (threestage);
  \draw[ln] (threestage) -- (l-assumes4);
  \draw[arr] (l-assumes4) -- (sensory); \draw[arr] (l-assumes4) -- (stm); \draw[arr] (l-assumes4) -- (ltm);
  \draw[ln] (sensory) -- (l-by); \draw[arr] (l-by) -- (stm);
  \draw[arr] (stm) -- (codtrans); \draw[arr] (codtrans) -- (ltm);
  \draw[ln] (ltm) -- (l-includes3); \draw[arr] (l-includes3) -- (retriev);
  \draw[ln] (retriev) -- (l-rehears); \draw[arr] (l-rehears) -- (stm);
  \draw[ln] (sensory) -- (l-ifno); \draw[arr] (l-ifno) -- (forgot);
  \draw[ln] (stm) -- (l-needs2);
  \draw[arr] (l-needs2) -- (repetn); \draw[arr] (l-needs2) -- (mnemon); \draw[arr] (l-needs2) -- (review);
  \draw[ln] (reflect) .. controls (1720,1890) and (1635,1940) .. (l-ledsto); \draw[arr] (l-ledsto) -- (diseq);
  \draw[ln] (diseq) .. controls (2150,2240) and (2560,2260) .. (l-impacts2);
  \draw[arr] (l-impacts2) .. controls (2585,1870) and (2480,1855) .. (2300,1840) .. controls (2150,1825) and (2130,1720) .. (restruct);
  % meaningful learning links
  \draw[ln] (mlt) .. controls (2330,1205) and (2310,1213) .. (l-changes2); \draw[arr] (l-changes2) -- (intnet);
  \draw[ln] (mlt) -- (l-learner2); \draw[arr] (l-learner2) -- (authctx);
  \draw[ln] (mlt) -- (l-incorp2);
  \draw[arr] (l-incorp2) -- (advorg); \draw[arr] (l-incorp2) -- (integr); \draw[arr] (l-incorp2) -- (levmeta);
  \draw[arr] (l-incorp2) .. controls (2420,1350) and (2410,1450) .. (subsum);
  \draw[arr] (l-incorp2) .. controls (2380,1380) and (2260,1470) .. (analysis);
  \draw[arr] (l-incorp2) .. controls (2380,1420) and (2050,1520) .. (multisens);
  \draw[ln] (relknow) -- (l-through); \draw[arr] (l-through) -- (advorg);
  \draw[ln] (mlt) -- (l-posits6); \draw[arr] (l-posits6) .. controls (2620,1240) and (2630,1280) .. (relknow);
  \draw[arr] (integr) -- (l-impacts3);
  \draw[ln] (mlt.east) .. controls (2720,1180) and (2790,1400) .. (l-impacts3);
  \draw[arr] (l-impacts3) -- (ltm);
  \draw[ln] (levmeta) -- (l-utilize);
  \draw[arr] (l-utilize) -- (connect); \draw[arr] (l-utilize) -- (questML); \draw[arr] (l-utilize) -- (predML);
  % cognitive developmental links
  \draw[ln] (cogdev) -- (l-includes4); \draw[arr] (l-includes4) -- (vygot);
  \draw[ln] (cogdev) -- (l-includes5); \draw[arr] (l-includes5) -- (discov);
  \draw[ln] (cogdev) -- (l-includes6); \draw[arr] (l-includes6) -- (piaget);
  \draw[ln] (vygot) -- (l-believes1); \draw[arr] (l-believes1) -- (mustdev);
  \draw[ln] (vygot) -- (l-incorp3);
  \foreach \t in {predV, clarif, questV, summar}
    \draw[arr] (l-incorp3) -- (\t);
  \draw[ln] (vygot) -- (l-posits7); \draw[arr] (l-posits7) -- (zpd);
  \draw[ln] (zpd) -- (l-ie2); \draw[arr] (l-ie2) -- (children);
  \draw[ln] (vygot) -- (l-is3); \draw[arr] (l-is3) -- (teachV);
  \draw[ln] (teachV) -- (l-stress3); \draw[arr] (l-stress3) -- (socult);
  % piaget links
  \draw[ln] (piaget) -- (l-is1); \draw[arr] (l-is1) -- (learnctr);
  \draw[ln] (learnctr) -- (l-stress1); \draw[arr] (l-stress1) -- (readiness);
  \draw[ln] (piaget) -- (l-believes2); \draw[arr] (l-believes2) -- (beforedev);
  \draw[ln] (piaget) -- (l-incorp4); \draw[arr] (l-incorp4) -- (stages4);
  \draw[ln] (stages4) -- (l-madeup); \draw[arr] (l-madeup) -- (stagelist);
  \draw[ln] (piaget) -- (l-utilizes2); \draw[arr] (l-utilizes2) -- (types3);
  \draw[arr] (types3) -- (knowlist);
  \draw[ln] (piaget) -- (l-is2); \draw[arr] (l-is2) -- (progcon);
  \draw[ln] (piaget) -- (l-includes7);
  \draw[arr] (l-includes7) -- (assim); \draw[arr] (l-includes7) -- (accom); \draw[arr] (l-includes7) -- (equil);
  % bruner links
  \draw[ln] (discov) -- (l-is4); \draw[arr] (l-is4) -- (inquiry);
  \draw[ln] (discov) -- (l-posits8); \draw[arr] (l-posits8) -- (fundam);
  \draw[ln] (fundam) -- (l-given); \draw[arr] (l-given) -- (material);
  \draw[ln] (discov) -- (l-emph2); \draw[arr] (l-emph2) -- (modelling);
  \draw[ln] (discov) -- (l-integr); \draw[arr] (l-integr) -- (modes3);
  \draw[ln] (discov) -- (l-ie1); \draw[arr] (l-ie1) -- (teachB);
  \draw[ln] (teachB) -- (l-stress2); \draw[arr] (l-stress2) -- (environ);
  \draw[arr] (modes3) -- (enactive); \draw[arr] (modes3) -- (symbolic); \draw[arr] (modes3) -- (iconic);
  \draw[arr] (enactive) -- (symbolic); \draw[arr] (iconic) -- (symbolic);
  \draw[arr] (l-loosely) -- (enactive.east |- l-loosely); \draw[arr] (l-loosely) -- (iconic.west |- l-loosely);
  \end{scope}
\end{tikzpicture}
\end{document}
